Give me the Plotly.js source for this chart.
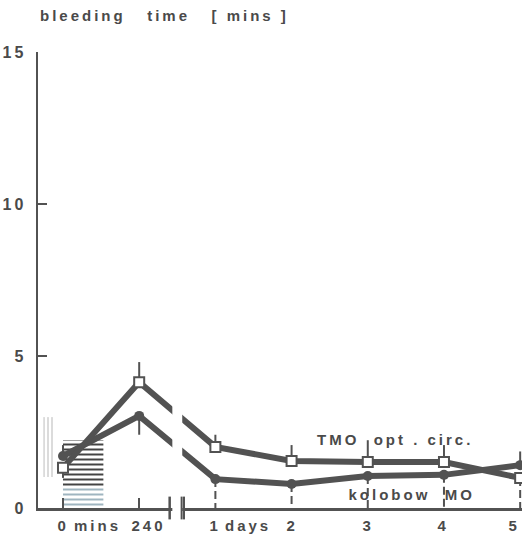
<!DOCTYPE html>
<html>
<head>
<meta charset="utf-8">
<script src="https://cdn.plot.ly/plotly-3.0.1.min.js"></script>
<style>
  html, body { margin: 0; padding: 0; background: #fff; }
  #chart { width: 522px; height: 538px; }
  .main-svg text { letter-spacing: 3px; }
</style>
</head>
<body>
<div id="chart"></div>
<script>
// ---- data ----
const xPos = [0, 1, 2, 3, 4, 5, 6];
const xLabels = ['0', '240', '1', '2', '3', '4', '5'];
const unitLabels = ['mins', 'days'];
const unitAt = [0.45, 2.43];

const tmo = [1.32, 4.14, 2.01, 1.55, 1.51, 1.51, 0.99];
const tmoErrUp = [0, 0.66, 0.40, 0.52, 0.72, 0.56, 0];
const tmoErrDown = [0.33, 0, 0, 0, 0, 0, 0];

const kol = [1.71, 3.03, 0.95, 0.79, 1.05, 1.09, 1.41];
const kolErrUp = [0.36, 0, 0, 0, 0, 0, 0.45];
const kolErrDown = [0, 0.62, 0, 0, 0, 0, 0];

const dropIdx = [2, 3, 4, 5, 6];

const yTicks = [0, 5, 10, 15];

// shaded infusion period (0 to ~0.53 units, up to ~2.24 min)
const shadeX = [0, 0.53];
const shadeDark = [0.7, 2.24];
const shadeLight = [0, 0.7];
const vShadeX = [-0.26, -0.13];
const vShade = [1.02, 2.99];

const INK = '#525252';
const TXT = '#4a4a4a';
const FONT = 'Liberation Sans, Arial, sans-serif';

// drop lines from the lower point of each day down to the axis
const dropXs = [], dropYs = [];
dropIdx.forEach(i => {
  dropXs.push(xPos[i], xPos[i], null);
  dropYs.push(Math.min(tmo[i], kol[i]), 0, null);
});

const traces = [
  {
    type: 'bar', x: [(shadeX[0] + shadeX[1]) / 2], width: [shadeX[1] - shadeX[0]],
    base: [shadeLight[0]], y: [shadeLight[1] - shadeLight[0]],
    marker: { color: 'white', line: { width: 0 },
      pattern: { shape: '-', fgcolor: '#9fb5c0', bgcolor: 'white', size: 5, solidity: 0.4 } },
    hoverinfo: 'skip'
  },
  {
    type: 'bar', x: [(shadeX[0] + shadeX[1]) / 2], width: [shadeX[1] - shadeX[0]],
    base: [shadeDark[0]], y: [shadeDark[1] - shadeDark[0]],
    marker: { color: 'white', line: { width: 0 },
      pattern: { shape: '-', fgcolor: '#444', bgcolor: 'white', size: 5, solidity: 0.4 } },
    hoverinfo: 'skip'
  },
  {
    type: 'bar', x: [(vShadeX[0] + vShadeX[1]) / 2], width: [vShadeX[1] - vShadeX[0]],
    base: [vShade[0]], y: [vShade[1] - vShade[0]],
    marker: { color: 'white', line: { width: 0 },
      pattern: { shape: '|', fgcolor: '#c4c4c4', bgcolor: 'white', size: 4, solidity: 0.3 } },
    hoverinfo: 'skip'
  },
  {
    type: 'scatter', mode: 'lines', x: dropXs, y: dropYs,
    line: { color: INK, width: 2, dash: '8px,4px' }, hoverinfo: 'skip'
  },
  {
    type: 'scatter', mode: 'lines+markers', name: 'kolobow MO',
    x: xPos, y: kol,
    line: { color: INK, width: 6 },
    marker: { symbol: 'circle', size: 10, color: INK },
    error_y: { type: 'data', symmetric: false, array: kolErrUp, arrayminus: kolErrDown,
      color: INK, thickness: 2, width: 0 }
  },
  {
    type: 'scatter', mode: 'lines+markers', name: 'TMO opt. circ.',
    x: xPos, y: tmo,
    line: { color: INK, width: 6 },
    marker: { symbol: 'square', size: 10, color: 'white', line: { color: INK, width: 2 } },
    error_y: { type: 'data', symmetric: false, array: tmoErrUp, arrayminus: tmoErrDown,
      color: INK, thickness: 2, width: 0 }
  }
];

const lblFont = { family: FONT, size: 15, color: TXT, weight: 'bold' };
const annotations = [];
xPos.forEach((x, i) => {
  const last = i === xPos.length - 1;
  annotations.push({
    x: i === 1 ? x + 0.12 : x, y: 0, xref: 'x', yref: 'y', yshift: -17,
    text: xLabels[i], showarrow: false, xanchor: last ? 'right' : 'center', yanchor: 'middle',
    font: lblFont
  });
});
unitLabels.forEach((t, i) => annotations.push({
  x: unitAt[i], y: 0, xref: 'x', yref: 'y', yshift: -17,
  text: t, showarrow: false, xanchor: 'center', yanchor: 'middle', font: lblFont
}));
annotations.push({
  x: 0.262, y: 1.081, xref: 'paper', yref: 'paper', xanchor: 'center', yanchor: 'middle',
  text: 'bleeding\u00a0\u00a0\u00a0time\u00a0\u00a0\u00a0[\u00a0mins\u00a0]', showarrow: false,
  font: lblFont
});
annotations.push({
  x: 4.36, y: 2.24, xref: 'x', yref: 'y', xanchor: 'center', yanchor: 'middle',
  text: 'TMO\u00a0\u00a0opt\u00a0.\u00a0circ.', showarrow: false, font: lblFont
});
annotations.push({
  x: 4.58, y: 0.43, xref: 'x', yref: 'y', xanchor: 'center', yanchor: 'middle',
  text: 'kolobow\u00a0\u00a0MO', showarrow: false, font: lblFont
});

const layout = {
  width: 522, height: 538,
  margin: { l: 38, r: 0, t: 52, b: 30, pad: 0 },
  paper_bgcolor: 'white', plot_bgcolor: 'white',
  showlegend: false, barmode: 'overlay',
  xaxis: {
    range: [-0.328, 6.024], showgrid: false, zeroline: false,
    showline: true, linecolor: INK, linewidth: 2.5,
    tickvals: [0, 1], ticks: 'inside', ticklen: 10, tickwidth: 2.5, tickcolor: INK,
    showticklabels: false, fixedrange: true
  },
  yaxis: {
    range: [0, 15], showgrid: false, zeroline: false,
    showline: true, linecolor: INK, linewidth: 2.5,
    tickvals: yTicks, ticks: 'inside', ticklen: 9, tickwidth: 2.5, tickcolor: INK,
    ticklabelstandoff: 6,
    tickfont: { family: FONT, size: 16, color: TXT, weight: 'bold' },
    fixedrange: true
  },
  shapes: [
    { type: 'rect', layer: 'above', xref: 'x', yref: 'paper', x0: 1.435, x1: 1.565, y0: -0.01, y1: 0.5,
      fillcolor: 'white', line: { width: 0 } },
    { type: 'line', layer: 'above', xref: 'x', yref: 'paper', x0: 1.40, x1: 1.40, y0: -0.025, y1: 0.025,
      line: { color: INK, width: 2.5 } },
    { type: 'line', layer: 'above', xref: 'x', yref: 'paper', x0: 1.557, x1: 1.557, y0: -0.025, y1: 0.025,
      line: { color: INK, width: 2 } },
    { type: 'line', layer: 'above', xref: 'x', yref: 'paper', x0: 1.588, x1: 1.588, y0: -0.025, y1: 0.025,
      line: { color: INK, width: 2 } }
  ],
  annotations: annotations
};

Plotly.newPlot('chart', traces, layout, { staticPlot: true, displayModeBar: false });
</script>
</body>
</html>
